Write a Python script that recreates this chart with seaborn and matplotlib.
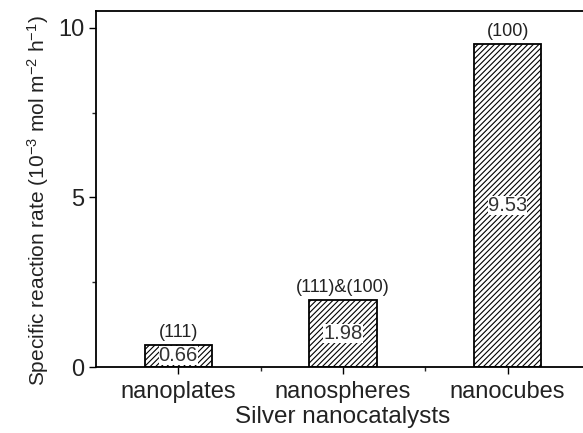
import matplotlib
matplotlib.use("Agg")
import matplotlib.pyplot as plt
import seaborn as sns
import pandas as pd
from matplotlib.ticker import MultipleLocator, FixedLocator

catalysts = ["nanoplates", "nanospheres", "nanocubes"]
rates = [0.66, 1.98, 9.53]
facets = ["(111)", "(111)&(100)", "(100)"]

sns.set_style("ticks")
plt.rcParams["font.family"] = ["Liberation Sans", "DejaVu Sans"]
plt.rcParams["mathtext.fontset"] = "custom"
plt.rcParams["mathtext.rm"] = "Liberation Sans"
plt.rcParams["mathtext.it"] = "Liberation Sans:italic"
plt.rcParams["mathtext.bf"] = "Liberation Sans:bold"
plt.rcParams["hatch.linewidth"] = 0.8
plt.rcParams["text.color"] = "#222222"

df = pd.DataFrame({"catalyst": catalysts, "rate": rates})

fig = plt.figure(figsize=(5.83, 4.33), dpi=100)
ax = fig.add_axes([96 / 583, 1 - 367 / 433, (590 - 96) / 583, (367 - 11) / 433])

sns.barplot(data=df, x="catalyst", y="rate", ax=ax, width=0.41,
            color="white", edgecolor="black", linewidth=1.3, hatch="//////")
for p in ax.patches:
    p.set_facecolor("white")
    p.set_hatch("//////")

ax.set_xlim(-0.5, 2.5)
ax.set_ylim(0, 10.5)

for i, (v, f) in enumerate(zip(rates, facets)):
    ax.text(i, v + 0.1, f, ha="center", va="bottom", fontsize=13, color="#222222")
    ax.text(i, v / 2, f"{v:.2f}", ha="center", va="center",
            fontsize=14.5, color="#333333",
            bbox=dict(boxstyle="square,pad=0.0", facecolor="white", edgecolor="none"))

ax.yaxis.set_major_locator(FixedLocator([0, 5, 10]))
ax.yaxis.set_minor_locator(MultipleLocator(2.5))
ax.xaxis.set_minor_locator(FixedLocator([0.5, 1.5]))
ax.tick_params(axis="both", which="major", direction="out", length=5, width=1.0,
               labelsize=17, colors="black", labelcolor="#222222")
ax.tick_params(axis="both", which="minor", direction="out", length=3, width=1.0)
ax.tick_params(axis="x", which="major", pad=5)

for s in ax.spines.values():
    s.set_linewidth(1.3)
    s.set_color("black")

ax.set_xlabel("Silver nanocatalysts", fontsize=17.5, labelpad=2, color="#222222")
ax.set_ylabel("Specific reaction rate (10$^{-3}$ mol m$^{-2}$ h$^{-1}$)", fontsize=15,
              labelpad=5, color="#222222")
ax.yaxis.label.set_y(0.466)

fig.savefig("out.png", dpi=100)
